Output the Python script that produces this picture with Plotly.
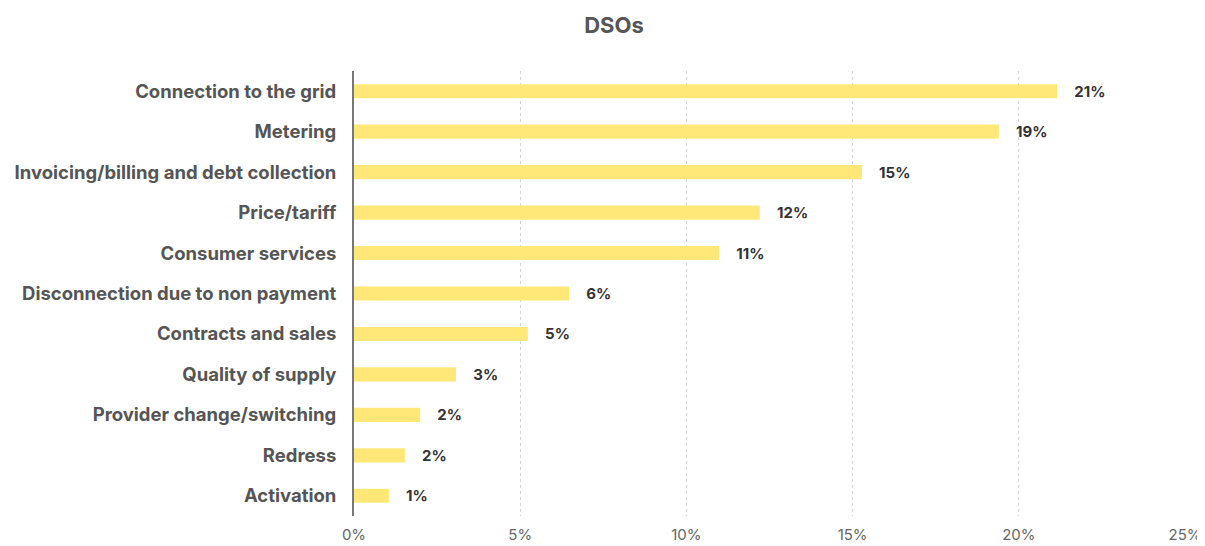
import plotly.graph_objects as go

categories = [
    "Connection to the grid",
    "Metering",
    "Invoicing/billing and debt collection",
    "Price/tariff",
    "Consumer services",
    "Disconnection due to non payment",
    "Contracts and sales",
    "Quality of supply",
    "Provider change/switching",
    "Redress",
    "Activation",
]
shares = [21.15, 19.4, 15.28, 12.21, 10.98, 6.47, 5.23, 3.07, 1.99, 1.53, 1.05]

tick_vals = [0, 5, 10, 15, 20, 25]
tick_text = ["0%", "5%", "10%", "15%", "20%", "25%"]

# page has an 8px body margin, so the figure is sized to fit inside it
W, H = 1197, 538

fig = go.Figure(go.Bar(
    x=shares, y=categories, orientation="h",
    marker=dict(color="#ffe878", line=dict(width=0)),
    width=0.35,
    text=shares, texttemplate="    %{x:.0f}%", textposition="outside",
    constraintext="none",
    textfont=dict(family="Inter", size=15, color="#333333", weight="bold"),
    cliponaxis=False,
    hovertemplate="%{y}: %{x:.1f}%<extra></extra>",
))

fig.update_layout(
    width=W, height=H,
    margin=dict(l=346, r=20, t=63, b=30),
    paper_bgcolor="white", plot_bgcolor="white",
    font=dict(family="Inter", color="#555555"),
    title=dict(text="<b>DSOs</b>", x=606 / W, xref="container", xanchor="center",
               y=1 - 17 / H, yref="container", yanchor="middle",
               font=dict(size=22, color="#555555")),
    showlegend=False,
    bargap=0.65,
)
fig.update_xaxes(
    range=[0, 25], tickvals=tick_vals, ticktext=tick_text,
    showgrid=True, gridcolor="#d4d4d4", griddash="dot", gridwidth=1,
    zeroline=False, showline=False, automargin=False,
    tickfont=dict(size=15, color="#666666"), ticklabelstandoff=8,
)
fig.update_yaxes(
    categoryorder="array", categoryarray=categories[::-1],
    showline=True, linecolor="#777777", linewidth=2,
    showgrid=False, automargin=False,
    tickfont=dict(size=18.5, color="#555555", weight="bold"), ticklabelstandoff=12,
)

fig.write_html("out.html")
